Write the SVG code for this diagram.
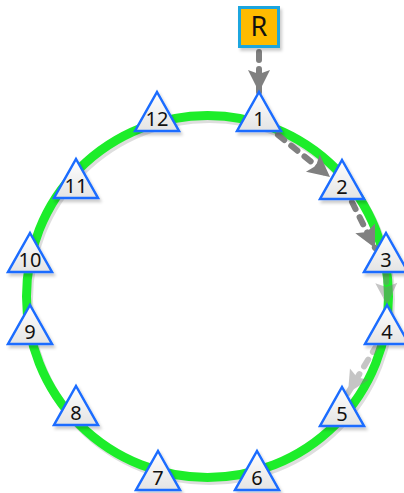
<svg xmlns="http://www.w3.org/2000/svg" width="404" height="493" viewBox="0 0 404 493">
<style>
.tri{fill:url(#tg);stroke:#1a6cff;stroke-width:2.5;stroke-linejoin:miter}
.lbl{font-family:"Noto Sans","Liberation Sans",sans-serif;font-size:20px;fill:#111;text-anchor:middle}
.edge{fill:none;stroke:#808080;stroke-width:6;stroke-dasharray:8 9;stroke-linecap:round}
.faint{opacity:0.45}
</style>
<defs>
<linearGradient id="tg" x1="0" y1="0" x2="0" y2="1">
<stop offset="0" stop-color="#ffffff"/>
<stop offset="1" stop-color="#e4e4e4"/>
</linearGradient>
<filter id="sh" x="-30%" y="-30%" width="160%" height="160%">
<feDropShadow dx="2" dy="3" stdDeviation="1.5" flood-color="#000" flood-opacity="0.2"/>
</filter>
<marker id="ah" markerUnits="userSpaceOnUse" markerWidth="26" markerHeight="26" viewBox="0 -13 24 26" refX="22" refY="0" orient="auto">
<path d="M0,-11 L22,0 L0,11 L4,0 Z" fill="#808080"/>
</marker>
<polygon id="t" points="0,-20 22,19 -22,19"/>
</defs>
<g id="ring">
<circle cx="209.5" cy="299.5" r="181" fill="none" stroke="#000" stroke-opacity="0.13" stroke-width="9"/>
<circle cx="207.5" cy="296.5" r="181" fill="none" stroke="#1ded2a" stroke-width="9"/>
</g>
<g id="connectors">
<line class="edge" x1="259" y1="52" x2="259" y2="92" marker-end="url(#ah)"/>
<line class="edge" x1="278" y1="135" x2="330" y2="177" marker-end="url(#ah)"/>
<line class="edge" x1="352" y1="202" x2="375" y2="248" marker-end="url(#ah)"/>
<line class="edge faint" x1="386" y1="274" x2="387" y2="305" marker-end="url(#ah)"/>
<line class="edge faint" x1="377" y1="345" x2="348" y2="393" marker-end="url(#ah)"/>
</g>
<g id="R">
<rect x="239.5" y="7.5" width="39" height="39" fill="#ffbb00" stroke="#1aa6df" stroke-width="3" filter="url(#sh)"/>
<text x="259" y="36" style="font-family:'Noto Sans','Liberation Sans',sans-serif;font-size:27px;fill:#111;text-anchor:middle">R</text>
</g>
<g id="n1" transform="translate(259,112)"><use href="#t" class="tri" filter="url(#sh)"/><text class="lbl" x="0" y="14">1</text></g>
<g id="n2" transform="translate(342,180)"><use href="#t" class="tri" filter="url(#sh)"/><text class="lbl" x="0" y="14">2</text></g>
<g id="n3" transform="translate(386,253)"><use href="#t" class="tri" filter="url(#sh)"/><text class="lbl" x="0" y="14">3</text></g>
<g id="n4" transform="translate(387,325)"><use href="#t" class="tri" filter="url(#sh)"/><text class="lbl" x="0" y="14">4</text></g>
<g id="n5" transform="translate(342,407)"><use href="#t" class="tri" filter="url(#sh)"/><text class="lbl" x="0" y="14">5</text></g>
<g id="n6" transform="translate(257,471)"><use href="#t" class="tri" filter="url(#sh)"/><text class="lbl" x="0" y="14">6</text></g>
<g id="n7" transform="translate(158,471)"><use href="#t" class="tri" filter="url(#sh)"/><text class="lbl" x="0" y="14">7</text></g>
<g id="n8" transform="translate(76,406)"><use href="#t" class="tri" filter="url(#sh)"/><text class="lbl" x="0" y="14">8</text></g>
<g id="n9" transform="translate(30,325)"><use href="#t" class="tri" filter="url(#sh)"/><text class="lbl" x="0" y="14">9</text></g>
<g id="n10" transform="translate(30,253)"><use href="#t" class="tri" filter="url(#sh)"/><text class="lbl" x="0" y="14">10</text></g>
<g id="n11" transform="translate(76,179)"><use href="#t" class="tri" filter="url(#sh)"/><text class="lbl" x="0" y="14">11</text></g>
<g id="n12" transform="translate(157,112)"><use href="#t" class="tri" filter="url(#sh)"/><text class="lbl" x="0" y="14">12</text></g>
</svg>
